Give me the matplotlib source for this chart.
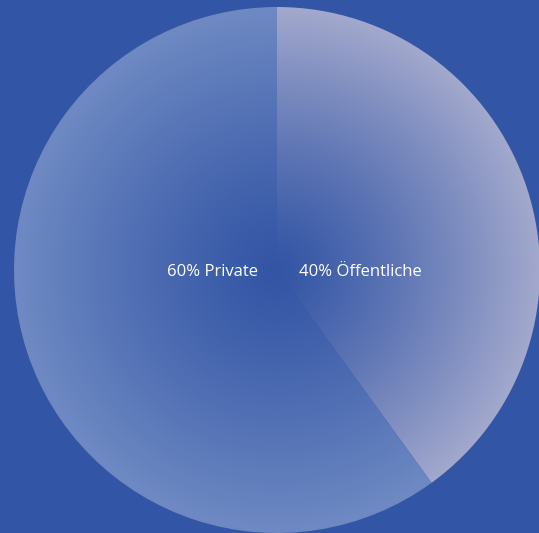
import numpy as np
import matplotlib
matplotlib.use("Agg")
import matplotlib.pyplot as plt
from matplotlib.colors import to_rgb

labels = ["Öffentliche", "Private"]
values = [40, 60]
edge_colors = ["#a3a9cd", "#6f8ac3"]
bg = "#3355a5"

W, H = 539, 533
fig = plt.figure(figsize=(W / 100, H / 100), dpi=100, facecolor=bg)
ax = fig.add_axes([0, 0, 1, 1])
ax.set_facecolor(bg)

cx, cy, r = 277, H - 270, 263
wedges, _ = ax.pie(values, startangle=90, counterclock=False,
                   center=(cx, cy), radius=r, frame=True,
                   wedgeprops=dict(linewidth=0))
ax.set_xlim(0, W)
ax.set_ylim(0, H)
ax.set_aspect("equal")
ax.axis("off")

yy, xx = np.mgrid[0:H, 0:W]
dist = np.sqrt((xx + 0.5 - cx) ** 2 + (yy + 0.5 - cy) ** 2) / r
t = np.clip(dist, 0, 1) ** 1.2
bgc = np.array(to_rgb(bg))
for w, ec in zip(wedges, edge_colors):
    e = np.array(to_rgb(ec))
    img = bgc[None, None, :] + (e - bgc)[None, None, :] * t[..., None]
    w.set_facecolor("none")
    im = ax.imshow(img, extent=(0, W, 0, H), origin="lower",
                   interpolation="bilinear", zorder=1)
    im.set_clip_path(w)

font = dict(color="white", fontsize=12, family=["Open Sans", "DejaVu Sans"],
            va="center", zorder=5)
ax.text(cx - 19, cy - 2, f"{values[1]}% {labels[1]}", ha="right", **font)
ax.text(cx + 22, cy - 2, f"{values[0]}% {labels[0]}", ha="left", **font)

fig.savefig("out.png", dpi=100, facecolor=bg)
